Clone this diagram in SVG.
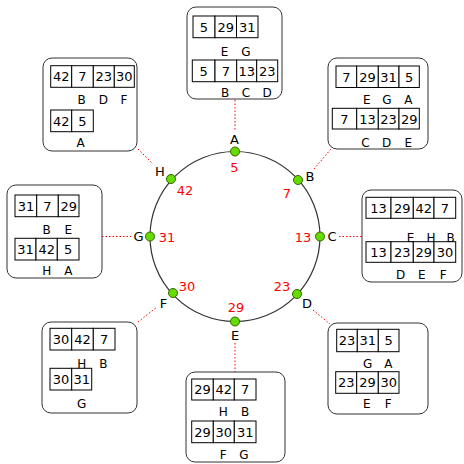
<svg xmlns="http://www.w3.org/2000/svg" width="464" height="464" viewBox="0 0 464 464">
<style>
.box{fill:#fff;stroke:#333;stroke-width:1}
.cell{fill:#fff;stroke:#000;stroke-width:1}
.num{font-family:"DejaVu Sans",Verdana,sans-serif;font-size:13px;text-anchor:middle;fill:#000}
.lbl{font-family:"DejaVu Sans",Verdana,sans-serif;font-size:12px;text-anchor:middle;fill:#000}
.nl{font-family:"DejaVu Sans",Verdana,sans-serif;font-size:13px;text-anchor:middle;fill:#000}
.red{font-family:"DejaVu Sans",Verdana,sans-serif;font-size:13px;text-anchor:middle;fill:#ff0000}
.conn{stroke:#ff0000;stroke-width:1;stroke-dasharray:1.5,2;fill:none}
.dot{fill:#66dd00;stroke:#336600;stroke-width:1}
</style>
<rect width="464" height="464" fill="#fff"/>
<g id="connectors">
<line class="conn" x1="235" y1="100" x2="235" y2="131"/>
<line class="conn" x1="314" y1="169" x2="331" y2="149"/>
<line class="conn" x1="339" y1="236.5" x2="362" y2="236.5"/>
<line class="conn" x1="313" y1="310" x2="330" y2="324"/>
<line class="conn" x1="235" y1="343" x2="235" y2="372"/>
<line class="conn" x1="138" y1="322" x2="157" y2="307"/>
<line class="conn" x1="102" y1="236.5" x2="131" y2="236.5"/>
<line class="conn" x1="138" y1="149" x2="153" y2="164"/>
</g>
<g id="ring">
<circle cx="235" cy="236.5" r="85" fill="none" stroke="#333" stroke-width="1.2"/>
</g>
<g id="node-A"><circle class="dot" cx="235" cy="151.5" r="4.5"/><text class="nl" x="234.5" y="144">A</text><text class="red" x="234.5" y="171.5">5</text></g>
<g id="node-B"><circle class="dot" cx="298" cy="180" r="4.5"/><text class="nl" x="310" y="180.5">B</text><text class="red" x="287" y="197.5">7</text></g>
<g id="node-C"><circle class="dot" cx="320" cy="236.5" r="4.5"/><text class="nl" x="332" y="241">C</text><text class="red" x="303" y="241.5">13</text></g>
<g id="node-D"><circle class="dot" cx="297" cy="294" r="4.5"/><text class="nl" x="307" y="307.5">D</text><text class="red" x="282" y="291">23</text></g>
<g id="node-E"><circle class="dot" cx="235" cy="321.5" r="4.5"/><text class="nl" x="235" y="339.5">E</text><text class="red" x="236" y="312">29</text></g>
<g id="node-F"><circle class="dot" cx="173" cy="293" r="4.5"/><text class="nl" x="163.5" y="308">F</text><text class="red" x="187" y="291">30</text></g>
<g id="node-G"><circle class="dot" cx="150" cy="236.5" r="4.5"/><text class="nl" x="138.5" y="241">G</text><text class="red" x="167" y="241.5">31</text></g>
<g id="node-H"><circle class="dot" cx="171" cy="179" r="4.5"/><text class="nl" x="160" y="176">H</text><text class="red" x="185" y="194.5">42</text></g>

<g id="table-A">
<rect class="box" x="187" y="7" width="95" height="92" rx="9"/>
<rect class="cell" x="193" y="16" width="22" height="21.7"/><rect class="cell" x="215" y="16" width="21.5" height="21.7"/><rect class="cell" x="236.5" y="16" width="21.5" height="21.7"/>
<text class="num" x="204" y="31.5">5</text><text class="num" x="225.8" y="31.5">29</text><text class="num" x="247.3" y="31.5">31</text>
<text class="lbl" x="224.5" y="56">E</text><text class="lbl" x="246" y="56">G</text>
<rect class="cell" x="192.3" y="60" width="22.7" height="21.7"/><rect class="cell" x="215" y="60" width="21.7" height="21.7"/><rect class="cell" x="236.7" y="60" width="20" height="21.7"/><rect class="cell" x="256.7" y="60" width="21" height="21.7"/>
<text class="num" x="203.6" y="75.5">5</text><text class="num" x="225.8" y="75.5">7</text><text class="num" x="246.7" y="75.5">13</text><text class="num" x="267.2" y="75.5">23</text>
<text class="lbl" x="225" y="96.5">B</text><text class="lbl" x="246" y="96.5">C</text><text class="lbl" x="267" y="96.5">D</text>
</g>

<g id="table-B">
<rect class="box" x="328" y="58" width="100" height="91" rx="9"/>
<rect class="cell" x="336" y="66" width="20.7" height="21.5"/><rect class="cell" x="356.7" y="66" width="21.6" height="21.5"/><rect class="cell" x="378.3" y="66" width="20.7" height="21.5"/><rect class="cell" x="399" y="66" width="20.3" height="21.5"/>
<text class="num" x="346.3" y="81.5">7</text><text class="num" x="367.5" y="81.5">29</text><text class="num" x="388.6" y="81.5">31</text><text class="num" x="409.2" y="81.5">5</text>
<text class="lbl" x="366.7" y="104">E</text><text class="lbl" x="387" y="104">G</text><text class="lbl" x="408.3" y="104">A</text>
<rect class="cell" x="332.3" y="108.3" width="24.4" height="20.7"/><rect class="cell" x="356.7" y="108.3" width="21.6" height="20.7"/><rect class="cell" x="378.3" y="108.3" width="20.7" height="20.7"/><rect class="cell" x="399" y="108.3" width="20.3" height="20.7"/>
<text class="num" x="344.5" y="123.5">7</text><text class="num" x="367.5" y="123.5">13</text><text class="num" x="388.6" y="123.5">23</text><text class="num" x="409.2" y="123.5">29</text>
<text class="lbl" x="365.5" y="146.5">C</text><text class="lbl" x="386.7" y="146.5">D</text><text class="lbl" x="408.3" y="146.5">E</text>
</g>

<g id="table-C">
<rect class="box" x="362" y="190" width="100" height="92" rx="9"/>
<rect class="cell" x="366" y="197.3" width="25" height="21"/><rect class="cell" x="391" y="197.3" width="22.3" height="21"/><rect class="cell" x="413.3" y="197.3" width="20.7" height="21"/><rect class="cell" x="434" y="197.3" width="21.7" height="21"/>
<text class="num" x="378.5" y="212.5">13</text><text class="num" x="402.2" y="212.5">29</text><text class="num" x="423.7" y="212.5">42</text><text class="num" x="444.9" y="212.5">7</text>
<text class="lbl" x="410.5" y="242">E</text><text class="lbl" x="431" y="242">H</text><text class="lbl" x="450.5" y="242">B</text>
<rect class="cell" x="366" y="241.7" width="25" height="20.6"/><rect class="cell" x="391" y="241.7" width="22.3" height="20.6"/><rect class="cell" x="413.3" y="241.7" width="20.7" height="20.6"/><rect class="cell" x="434" y="241.7" width="21.7" height="20.6"/>
<text class="num" x="378.5" y="256.8">13</text><text class="num" x="402.2" y="256.8">23</text><text class="num" x="423.7" y="256.8">29</text><text class="num" x="444.9" y="256.8">30</text>
<text class="lbl" x="400.5" y="278.6">D</text><text class="lbl" x="421.7" y="278.6">E</text><text class="lbl" x="443.3" y="278.6">F</text>
</g>

<g id="table-D">
<rect class="box" x="328" y="323" width="100" height="91" rx="9"/>
<rect class="cell" x="336.7" y="329.3" width="20.6" height="22.4"/><rect class="cell" x="357.3" y="329.3" width="21" height="22.4"/><rect class="cell" x="378.3" y="329.3" width="20.7" height="22.4"/>
<text class="num" x="347" y="345.2">23</text><text class="num" x="367.8" y="345.2">31</text><text class="num" x="388.7" y="345.2">5</text>
<text class="lbl" x="367.7" y="367.6">G</text><text class="lbl" x="388.3" y="367.6">A</text>
<rect class="cell" x="335.7" y="371.7" width="21" height="21.6"/><rect class="cell" x="356.7" y="371.7" width="21.6" height="21.6"/><rect class="cell" x="378.3" y="371.7" width="20.7" height="21.6"/>
<text class="num" x="346.2" y="387.2">23</text><text class="num" x="367.5" y="387.2">29</text><text class="num" x="388.7" y="387.2">30</text>
<text class="lbl" x="366.7" y="407.6">E</text><text class="lbl" x="388.3" y="407.6">F</text>
</g>

<g id="table-E">
<rect class="box" x="186" y="372" width="99" height="90" rx="9"/>
<rect class="cell" x="191.7" y="379" width="21.6" height="21"/><rect class="cell" x="213.3" y="379" width="21" height="21"/><rect class="cell" x="234.3" y="379" width="21.7" height="21"/>
<text class="num" x="202.5" y="394.3">29</text><text class="num" x="223.8" y="394.3">42</text><text class="num" x="245.2" y="394.3">7</text>
<text class="lbl" x="223.3" y="416">H</text><text class="lbl" x="245" y="416">B</text>
<rect class="cell" x="191.7" y="421" width="21.6" height="21.7"/><rect class="cell" x="213.3" y="421" width="21" height="21.7"/><rect class="cell" x="234.3" y="421" width="21.7" height="21.7"/>
<text class="num" x="202.5" y="436.6">29</text><text class="num" x="223.8" y="436.6">30</text><text class="num" x="245.2" y="436.6">31</text>
<text class="lbl" x="223.3" y="458.6">F</text><text class="lbl" x="244" y="458.6">G</text>
</g>

<g id="table-F">
<rect class="box" x="42" y="322" width="95" height="91" rx="9"/>
<rect class="cell" x="50" y="328.3" width="21.7" height="21.7"/><rect class="cell" x="71.7" y="328.3" width="21.6" height="21.7"/><rect class="cell" x="93.3" y="328.3" width="21.7" height="21.7"/>
<text class="num" x="60.9" y="344">30</text><text class="num" x="82.5" y="344">42</text><text class="num" x="104.2" y="344">7</text>
<text class="lbl" x="81.7" y="367.6">H</text><text class="lbl" x="103.3" y="367.6">B</text>
<rect class="cell" x="50" y="368.3" width="21.7" height="21.7"/><rect class="cell" x="71.7" y="368.3" width="20" height="21.7"/>
<text class="num" x="60.9" y="384">30</text><text class="num" x="81.7" y="384">31</text>
<text class="lbl" x="81.7" y="407.6">G</text>
</g>

<g id="table-G">
<rect class="box" x="7" y="185" width="95" height="93" rx="9"/>
<rect class="cell" x="15" y="195" width="21.7" height="21.7"/><rect class="cell" x="36.7" y="195" width="21.6" height="21.7"/><rect class="cell" x="58.3" y="195" width="20.7" height="21.7"/>
<text class="num" x="25.9" y="210.7">31</text><text class="num" x="47.5" y="210.7">7</text><text class="num" x="68.7" y="210.7">29</text>
<text class="lbl" x="46.7" y="234.3">B</text><text class="lbl" x="68.3" y="234.3">E</text>
<rect class="cell" x="15" y="238.3" width="21" height="21.7"/><rect class="cell" x="36" y="238.3" width="21.3" height="21.7"/><rect class="cell" x="57.3" y="238.3" width="21.7" height="21.7"/>
<text class="num" x="25.5" y="254">31</text><text class="num" x="46.7" y="254">42</text><text class="num" x="68.2" y="254">5</text>
<text class="lbl" x="46.7" y="275">H</text><text class="lbl" x="68.3" y="275">A</text>
</g>

<g id="table-H">
<rect class="box" x="43" y="58" width="94" height="93" rx="9"/>
<rect class="cell" x="50.7" y="65.7" width="21" height="21.6"/><rect class="cell" x="71.7" y="65.7" width="21.6" height="21.6"/><rect class="cell" x="93.3" y="65.7" width="21" height="21.6"/><rect class="cell" x="114.3" y="65.7" width="20" height="21.6"/>
<text class="num" x="61.2" y="81.3">42</text><text class="num" x="82.5" y="81.3">7</text><text class="num" x="103.8" y="81.3">23</text><text class="num" x="124.3" y="81.3">30</text>
<text class="lbl" x="81.7" y="104.3">B</text><text class="lbl" x="103.3" y="104.3">D</text><text class="lbl" x="124" y="104.3">F</text>
<rect class="cell" x="50.7" y="110" width="21" height="21.7"/><rect class="cell" x="71.7" y="110" width="21.6" height="21.7"/>
<text class="num" x="61.2" y="125.7">42</text><text class="num" x="82.5" y="125.7">5</text>
<text class="lbl" x="80.5" y="146.6">A</text>
</g>
</svg>
